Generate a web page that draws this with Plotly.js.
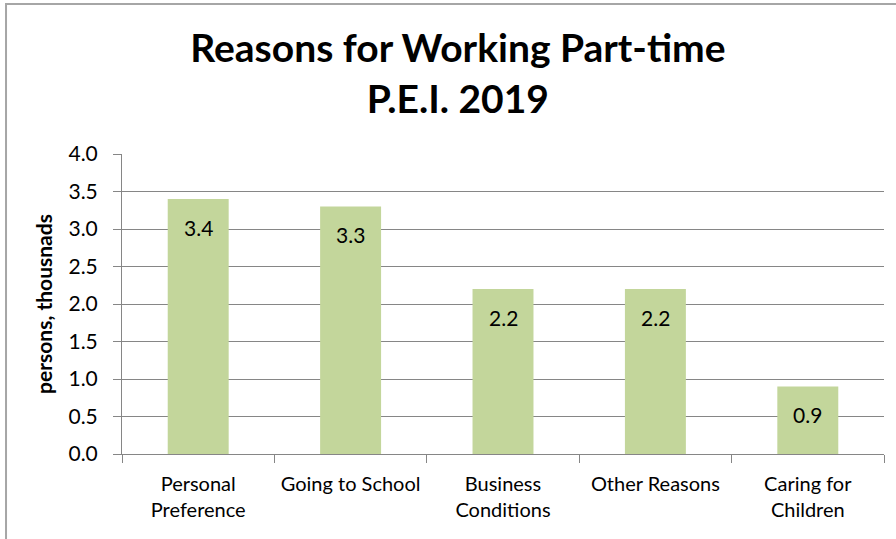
<!DOCTYPE html>
<html>
<head>
<meta charset="utf-8">
<script src="https://cdn.plot.ly/plotly-3.0.1.min.js"></script>
<style>html,body{margin:0;padding:0;background:#fff;}#chart{width:896px;height:539px;}</style>
</head>
<body>
<div id="chart"></div>
<script>
const categories = ["Personal<br>Preference", "Going to School", "Business<br>Conditions", "Other Reasons", "Caring for<br>Children"];
const values = [3.4, 3.3, 2.2, 2.2, 0.9];
const yTickValues = [0, 0.5, 1, 1.5, 2, 2.5, 3, 3.5, 4];
const yTickLabels = ["0.0", "0.5", "1.0", "1.5", "2.0", "2.5", "3.0", "3.5", "4.0"];
const titleText = "Reasons for Working Part-time<br>P.E.I. 2019";
const yTitleText = "persons, thousnads";

const FONT = "Lato, 'Open Sans', sans-serif";
const GRID = "#868686";

const trace = {
  type: "bar",
  x: categories,
  y: values,
  marker: {color: "#c3d69b"},
  hoverinfo: "x+y"
};

const labelAnnotations = values.map((v, i) => ({
  x: categories[i],
  y: v,
  xref: "x",
  yref: "y",
  text: v.toFixed(1),
  showarrow: false,
  yshift: -28,
  font: {family: FONT, size: 21, color: "#000"}
}));

const layout = {
  width: 896,
  height: 539,
  paper_bgcolor: "#fff",
  plot_bgcolor: "#fff",
  margin: {l: 122, r: 12, t: 154, b: 85},
  bargap: 0.6,
  showlegend: false,
  font: {family: FONT, color: "#000"},
  title: {
    text: titleText,
    font: {family: FONT, size: 39, color: "#000", weight: "bold"},
    x: 0.511,
    xanchor: "center",
    xref: "container",
    y: 0.885,
    yanchor: "middle",
    yref: "container"
  },
  xaxis: {
    type: "category",
    showline: true,
    linecolor: GRID,
    linewidth: 1,
    showgrid: false,
    ticks: "outside",
    tickson: "boundaries",
    ticklen: 8,
    tickcolor: GRID,
    tickangle: 0,
    ticklabelstandoff: 12,
    tickfont: {family: FONT, size: 20, color: "#000"},
    fixedrange: true
  },
  yaxis: {
    range: [0, 4],
    tickvals: yTickValues,
    ticktext: yTickLabels,
    showline: true,
    linecolor: GRID,
    linewidth: 1,
    showgrid: true,
    gridcolor: GRID,
    gridwidth: 1,
    zeroline: false,
    ticks: "outside",
    ticklen: 8,
    tickcolor: GRID,
    ticklabelstandoff: 11,
    tickfont: {family: FONT, size: 21, color: "#000"},
    title: {text: yTitleText, font: {family: FONT, size: 21, color: "#000", weight: "bold"}, standoff: 10},
    fixedrange: true
  },
  annotations: labelAnnotations,
  shapes: [{
    type: "rect",
    xref: "paper", yref: "paper",
    x0: -0.1522, x1: 1.2, y0: -0.4, y1: 1.5,
    line: {color: "#a6a6a6", width: 2},
    fillcolor: "rgba(0,0,0,0)",
    layer: "below"
  }]
};

Plotly.newPlot("chart", [trace], layout, {displayModeBar: false, staticPlot: true});
</script>
</body>
</html>
